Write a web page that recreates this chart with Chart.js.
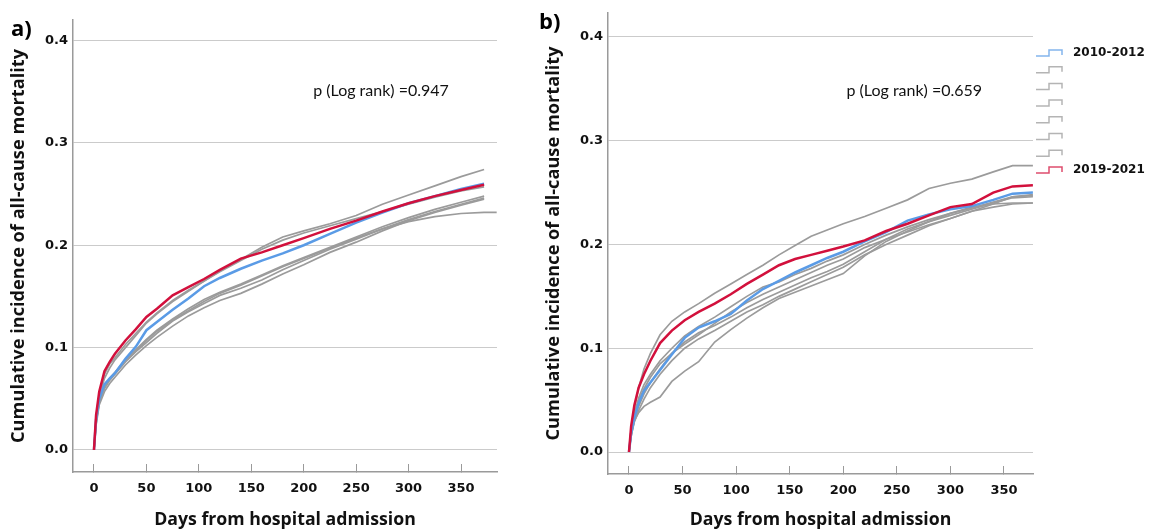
<!DOCTYPE html>
<html>
<head>
<meta charset="utf-8">
<script src="https://cdn.jsdelivr.net/npm/chart.js@4.4.1/dist/chart.umd.min.js"></script>
<style>
  body { margin: 0; background: #fff; }
  #page { position: relative; width: 1149px; height: 531px; overflow: hidden; }
  .panel { position: absolute; top: 0; height: 531px; }
  .tag { position: absolute; font: bold 22px "Open Sans", sans-serif; color: #000; }
</style>
</head>
<body>
<div id="page">
  <div class="panel" style="left:0; width:525px;"><canvas id="chartA"></canvas></div>
  <div class="panel" style="left:525px; width:624px;"><canvas id="chartB"></canvas></div>
  <div class="tag" style="left:11px; top:12px;">a)</div>
  <div class="tag" style="left:539px; top:5px;">b)</div>
</div>
<script>
// ---- panel a) data (days, cumulative incidence) ----
const daysA = [0, 2, 5, 10, 15, 20, 30, 40, 50, 60, 75, 90, 105, 120, 140, 160, 180, 200, 225, 250, 275, 300, 325, 350, 372];
const daysLowA = [0, 2, 5, 10, 15, 20, 30, 40, 50, 60, 75, 90, 105, 120, 140, 160, 180, 200, 225, 250, 275, 300, 325, 350, 372, 384];
const a2010 = [0, 0.030, 0.050, 0.064, 0.070, 0.075, 0.089, 0.101, 0.117, 0.125, 0.137, 0.148, 0.160, 0.168, 0.177, 0.185, 0.192, 0.200, 0.211, 0.222, 0.232, 0.241, 0.248, 0.255, 0.260];
const aG1 = [0, 0.030, 0.052, 0.070, 0.080, 0.088, 0.100, 0.112, 0.124, 0.133, 0.145, 0.155, 0.165, 0.175, 0.186, 0.198, 0.208, 0.214, 0.221, 0.229, 0.240, 0.249, 0.258, 0.267, 0.274];
const aG2 = [0, 0.032, 0.055, 0.074, 0.084, 0.090, 0.103, 0.114, 0.125, 0.134, 0.146, 0.156, 0.165, 0.174, 0.185, 0.196, 0.205, 0.212, 0.219, 0.226, 0.233, 0.240, 0.247, 0.253, 0.257];
const aG3 = [0, 0.028, 0.048, 0.062, 0.070, 0.076, 0.088, 0.098, 0.108, 0.117, 0.128, 0.138, 0.147, 0.154, 0.162, 0.171, 0.180, 0.188, 0.198, 0.208, 0.218, 0.227, 0.235, 0.242, 0.248];
const aG4 = [0, 0.026, 0.046, 0.060, 0.068, 0.074, 0.086, 0.096, 0.105, 0.114, 0.126, 0.135, 0.143, 0.151, 0.158, 0.166, 0.176, 0.185, 0.196, 0.206, 0.216, 0.225, 0.233, 0.240, 0.246];
const aG5 = [0, 0.024, 0.044, 0.057, 0.065, 0.071, 0.083, 0.093, 0.102, 0.110, 0.121, 0.131, 0.139, 0.146, 0.153, 0.162, 0.172, 0.181, 0.193, 0.203, 0.214, 0.224, 0.232, 0.239, 0.245];
const aG6 = [0, 0.027, 0.047, 0.061, 0.069, 0.075, 0.087, 0.097, 0.107, 0.116, 0.127, 0.136, 0.145, 0.153, 0.161, 0.170, 0.179, 0.187, 0.197, 0.207, 0.216, 0.223, 0.228, 0.231, 0.232, 0.232];
const a2019 = [0, 0.034, 0.057, 0.077, 0.086, 0.094, 0.107, 0.118, 0.130, 0.138, 0.151, 0.159, 0.167, 0.176, 0.187, 0.193, 0.200, 0.207, 0.216, 0.224, 0.233, 0.241, 0.248, 0.254, 0.259];

// ---- panel b) data ----
const daysB = [0, 2, 5, 9, 14, 20, 29, 40, 52, 65, 80, 95, 110, 125, 140, 155, 170, 185, 200, 220, 240, 260, 280, 300, 320, 340, 358, 377];
const b2010 = [0, 0.018, 0.033, 0.047, 0.059, 0.067, 0.079, 0.094, 0.110, 0.120, 0.126, 0.133, 0.146, 0.157, 0.165, 0.173, 0.180, 0.187, 0.193, 0.203, 0.212, 0.223, 0.229, 0.234, 0.237, 0.243, 0.249, 0.250];
const bG1 = [0, 0.022, 0.042, 0.062, 0.080, 0.095, 0.113, 0.126, 0.135, 0.143, 0.153, 0.162, 0.171, 0.180, 0.190, 0.199, 0.208, 0.214, 0.220, 0.227, 0.235, 0.243, 0.254, 0.259, 0.263, 0.270, 0.276, 0.276];
const bG2 = [0, 0.020, 0.037, 0.052, 0.065, 0.075, 0.088, 0.100, 0.112, 0.121, 0.130, 0.140, 0.150, 0.159, 0.164, 0.171, 0.177, 0.184, 0.190, 0.200, 0.209, 0.217, 0.224, 0.230, 0.235, 0.241, 0.246, 0.247];
const bG3 = [0, 0.017, 0.031, 0.044, 0.056, 0.067, 0.080, 0.095, 0.106, 0.115, 0.122, 0.130, 0.139, 0.147, 0.154, 0.161, 0.168, 0.174, 0.181, 0.193, 0.205, 0.215, 0.222, 0.228, 0.234, 0.240, 0.245, 0.246];
const bG4 = [0, 0.019, 0.035, 0.049, 0.061, 0.072, 0.085, 0.095, 0.104, 0.113, 0.124, 0.135, 0.144, 0.152, 0.159, 0.166, 0.173, 0.180, 0.186, 0.197, 0.205, 0.212, 0.219, 0.225, 0.232, 0.236, 0.239, 0.240];
const bG5 = [0, 0.016, 0.029, 0.040, 0.051, 0.062, 0.075, 0.088, 0.100, 0.109, 0.117, 0.126, 0.135, 0.142, 0.150, 0.157, 0.164, 0.171, 0.178, 0.190, 0.200, 0.209, 0.218, 0.225, 0.232, 0.239, 0.246, 0.248];
const bG6 = [0, 0.015, 0.030, 0.038, 0.044, 0.048, 0.053, 0.068, 0.078, 0.087, 0.106, 0.118, 0.129, 0.139, 0.148, 0.154, 0.160, 0.166, 0.172, 0.189, 0.203, 0.213, 0.222, 0.230, 0.236, 0.239, 0.240, 0.240];
const b2019 = [0, 0.025, 0.045, 0.062, 0.075, 0.088, 0.105, 0.117, 0.127, 0.135, 0.143, 0.152, 0.162, 0.171, 0.180, 0.186, 0.190, 0.194, 0.198, 0.204, 0.213, 0.220, 0.228, 0.236, 0.239, 0.250, 0.256, 0.257];

const xTicks = [0, 50, 100, 150, 200, 250, 300, 350];
const yTicks = [0.0, 0.1, 0.2, 0.3, 0.4];
const labelFirst = '2010-2012';
const labelLast = '2019-2021';

const BLUE = '#5a9be6';
const RED = '#d2103c';
const GRAY = '#9b9b9b';
const GRID = '#cbcbcb';
const AXIS = '#9a9a9a';

function pts(days, vals) {
    return vals.map((v, i) => ({ x: days[i], y: v }));
}

function series(label, days, vals, color, width, order) {
    return {
        label: label,
        data: pts(days, vals),
        borderColor: color,
        borderWidth: width,
        pointRadius: 0,
        fill: false,
        tension: 0,
        order: order
    };
}

// p-value text placed in data coordinates
const pLabelPlugin = {
    id: 'pLabel',
    afterDatasetsDraw(chart, args, opts) {
        const ctx = chart.ctx;
        const px = chart.scales.x.getPixelForValue(opts.x);
        const py = chart.scales.y.getPixelForValue(opts.y);
        ctx.save();
        ctx.font = '16px Lato, sans-serif';
        ctx.fillStyle = '#111';
        ctx.textBaseline = 'middle';
        ctx.fillText(opts.text, px, py);
        ctx.restore();
    }
};

// step-shaped legend drawn right of the plot area
const stepLegendPlugin = {
    id: 'stepLegend',
    afterDraw(chart, args, opts) {
        if (!opts.show) return;
        const ctx = chart.ctx;
        const x0 = chart.chartArea.right + 3;
        ctx.save();
        chart.data.datasets.forEach((ds, i) => {
            const y = opts.top + i * opts.gap;
            ctx.strokeStyle = ds.borderColor;
            ctx.globalAlpha = 0.75;
            ctx.lineWidth = 1.5;
            ctx.beginPath();
            ctx.moveTo(x0, y + 3);
            ctx.lineTo(x0 + 13, y + 3);
            ctx.lineTo(x0 + 13, y - 3);
            ctx.lineTo(x0 + 26, y - 3);
            ctx.lineTo(x0 + 26, y + 2);
            ctx.stroke();
            ctx.globalAlpha = 1;
            if (ds.label) {
                ctx.font = 'bold 12px "DejaVu Sans", sans-serif';
                ctx.fillStyle = '#111';
                ctx.textBaseline = 'middle';
                ctx.fillText(ds.label, x0 + 37, y);
            }
        });
        ctx.restore();
    }
};

function makeOptions(cfg) {
    return {
        responsive: true,
        maintainAspectRatio: false,
        animation: false,
        layout: { padding: { top: cfg.padTop, right: cfg.padRight, left: 0, bottom: 0 } },
        plugins: {
            legend: { display: false },
            tooltip: { enabled: false },
            pLabel: cfg.pLabel,
            stepLegend: cfg.legend
        },
        scales: {
            x: {
                type: 'linear',
                min: cfg.xMin,
                max: cfg.xMax,
                afterFit: (s) => { s.height = cfg.xHeight; },
                afterBuildTicks: (s) => { s.ticks = xTicks.map(v => ({ value: v })); },
                ticks: {
                    padding: 17,
                    color: '#111',
                    font: { family: '"DejaVu Sans", sans-serif', size: 13, weight: 'bold' },
                    maxRotation: 0
                },
                grid: { drawOnChartArea: false, tickLength: -8, color: AXIS, tickWidth: 1 },
                border: { color: AXIS, width: 1.5 },
                title: {
                    display: true,
                    text: 'Days from hospital admission',
                    color: '#111',
                    font: { family: '"Open Sans", sans-serif', size: 17.7, weight: 'bold' },
                    padding: { top: 0, bottom: 0 }
                }
            },
            y: {
                type: 'linear',
                min: cfg.yMin,
                max: cfg.yMax,
                afterFit: (s) => { s.width = cfg.yWidth; },
                afterBuildTicks: (s) => { s.ticks = yTicks.map(v => ({ value: v })); },
                ticks: {
                    padding: 5,
                    color: '#111',
                    font: { family: '"DejaVu Sans", sans-serif', size: 13, weight: 'bold' },
                    callback: (v) => v.toFixed(1)
                },
                grid: { drawTicks: false, color: GRID, lineWidth: 1 },
                border: { color: AXIS, width: 1.5 },
                title: {
                    display: true,
                    text: 'Cumulative incidence of all-cause mortality',
                    color: '#111',
                    font: { family: '"Open Sans", sans-serif', size: 18.2, weight: 'bold' },
                    padding: { top: cfg.yTitlePad, bottom: 0 }
                }
            }
        }
    };
}

new Chart(document.getElementById('chartA'), {
    type: 'line',
    data: {
        datasets: [
            series(labelFirst, daysA, a2010, BLUE, 2.5, 1),
            series('', daysA, aG1, GRAY, 1.7, 2),
            series('', daysA, aG2, GRAY, 1.7, 2),
            series('', daysA, aG3, GRAY, 1.7, 2),
            series('', daysA, aG4, GRAY, 1.7, 2),
            series('', daysA, aG5, GRAY, 1.7, 2),
            series('', daysLowA, aG6, GRAY, 1.7, 2),
            series(labelLast, daysA, a2019, RED, 2.5, 0)
        ]
    },
    options: makeOptions({
        padTop: 20, padRight: 28,
        xMin: -20, xMax: 384.3, xHeight: 59,
        yMin: -0.0215, yMax: 0.4200, yWidth: 73, yTitlePad: 8,
        pLabel: { text: 'p (Log rank) =0.947', x: 209, y: 0.351 },
        legend: { show: false }
    }),
    plugins: [pLabelPlugin, stepLegendPlugin]
});

new Chart(document.getElementById('chartB'), {
    type: 'line',
    data: {
        datasets: [
            series(labelFirst, daysB, b2010, BLUE, 2.5, 1),
            series('', daysB, bG1, GRAY, 1.7, 2),
            series('', daysB, bG2, GRAY, 1.7, 2),
            series('', daysB, bG3, GRAY, 1.7, 2),
            series('', daysB, bG4, GRAY, 1.7, 2),
            series('', daysB, bG5, GRAY, 1.7, 2),
            series('', daysB, bG6, GRAY, 1.7, 2),
            series(labelLast, daysB, b2019, RED, 2.5, 0)
        ]
    },
    options: makeOptions({
        padTop: 13, padRight: 116,
        xMin: -19.6, xMax: 377.1, xHeight: 57,
        yMin: -0.0212, yMax: 0.4231, yWidth: 83, yTitlePad: 18,
        pLabel: { text: 'p (Log rank) =0.659', x: 203, y: 0.348 },
        legend: { show: true, top: 53, gap: 16.7 }
    }),
    plugins: [pLabelPlugin, stepLegendPlugin]
});
</script>
</body>
</html>
